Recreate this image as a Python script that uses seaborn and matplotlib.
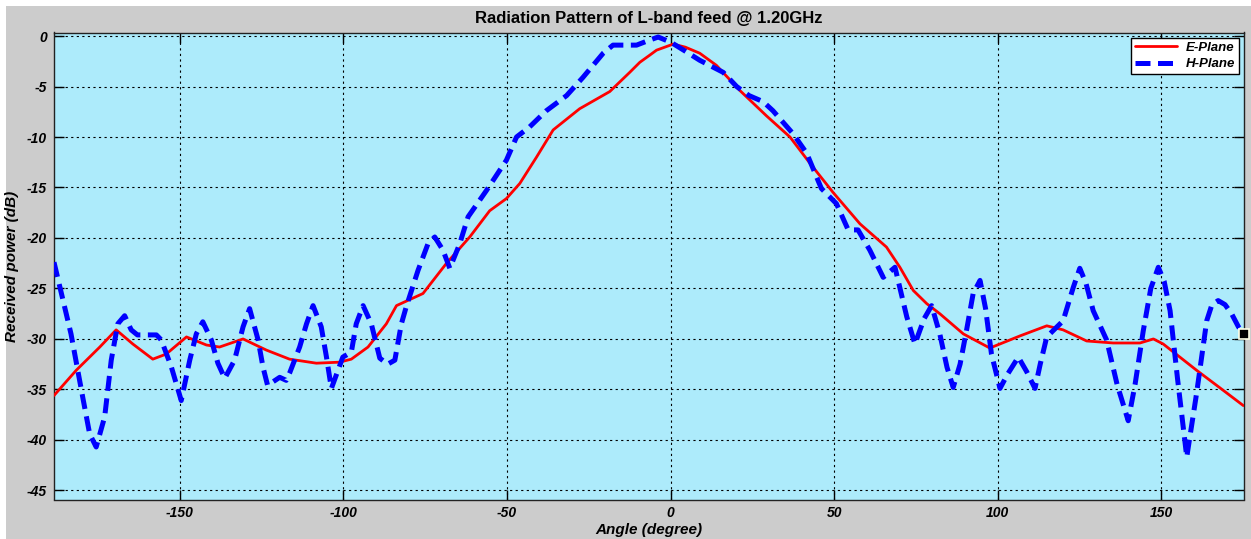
import matplotlib
matplotlib.use("Agg")
import matplotlib.pyplot as plt
from matplotlib.patches import Rectangle
import numpy as np
import pandas as pd
import seaborn as sns

# Measured E-plane pattern (angle in degrees, normalized power in dB)
e_angle = [-188.5, -181.7, -174.5, -169.5, -164.4, -158.3, -154.2, -148.0, -141.9,
           -137.9, -130.7, -123.6, -116.5, -108.3, -101.2, -97.6, -92.5, -86.9,
           -83.8, -75.7, -68.5, -61.4, -55.3, -50.2, -46.1, -41.0, -35.9, -27.8,
           -18.6, -12.5, -9.4, -6.4, -4.3, 0.8, 4.5, 8.9, 14.0, 21.2, 29.3, 36.5,
           42.6, 49.7, 57.9, 66.0, 70.1, 74.2, 78.3, 82.3, 89.5, 97.6, 106.8,
           115.0, 120.0, 127.2, 135.3, 143.5, 147.6, 150.6, 160.8, 169.0, 175.1]
e_power = [-35.6, -33.1, -30.8, -29.1, -30.5, -32.0, -31.5, -29.8, -30.6,
           -30.8, -30.0, -31.1, -32.0, -32.4, -32.3, -32.0, -30.8, -28.5,
           -26.7, -25.5, -22.5, -19.9, -17.3, -16.1, -14.6, -12.0, -9.3, -7.2,
           -5.5, -3.6, -2.6, -1.9, -1.4, -0.8, -1.1, -1.7, -2.9, -5.4, -7.9, -10.0,
           -12.6, -15.5, -18.6, -20.9, -22.9, -25.2, -26.5, -27.5, -29.5, -30.9, -29.7,
           -28.7, -29.1, -30.2, -30.4, -30.4, -30.0, -30.5, -33.1, -35.1, -36.6]

# Measured H-plane pattern
h_angle = [-188.5, -183.3, -179.7, -177.6, -175.6, -173.0, -171.0, -169.0, -166.9,
           -164.9, -163.0, -157.2, -155.7, -152.6, -149.6, -147.0, -145.0, -143.0,
           -140.4, -138.4, -136.3, -133.3, -130.7, -128.7, -126.1, -124.6, -123.2,
           -119.5, -117.5, -116.5, -113.4, -111.3, -109.3, -106.8, -105.2, -103.7,
           -100.2, -97.6, -96.1, -94.0, -91.5, -88.9, -86.5, -84.3, -82.3, -80.8,
           -77.2, -74.2, -72.1, -69.6, -67.5, -64.5, -61.9, -56.3, -50.2, -47.1,
           -43.1, -38.0, -31.8, -26.8, -20.6, -17.6, -10.4, -6.4, -3.8, 0.0, 4.5,
           8.9, 16.1, 20.2, 24.0, 28.3, 31.3, 37.5, 41.6, 46.1, 50.7, 54.3, 57.3,
           60.9, 65.0, 68.6, 72.2, 74.7, 77.5, 79.8, 82.3, 84.5, 86.4, 88.5, 90.5,
           92.5, 94.6, 96.3, 98.1, 100.7, 103.0, 106.3, 108.8, 111.4, 113.0, 115.0,
           120.0, 123.1, 125.1, 127.0, 129.2, 133.3, 136.5, 139.9, 142.0, 144.5,
           146.8, 149.1, 150.9, 152.7, 155.0, 157.8, 160.8, 163.9, 165.5, 167.4,
           169.5, 171.5, 173.6, 175.3]
h_power = [-22.4, -29.5, -35.8, -39.4, -40.7, -37.7, -32.1, -28.5, -27.7,
           -29.1, -29.6, -29.6, -30.1, -32.8, -36.1, -32.1, -29.5, -28.3,
           -30.1, -32.4, -33.9, -32.1, -28.8, -27.0, -30.1, -32.8, -34.6,
           -33.8, -34.1, -33.4, -30.8, -28.5, -26.7, -28.8, -31.8, -34.9,
           -31.8, -31.3, -28.5, -26.7, -28.5, -31.9, -32.5, -32.1, -28.5, -26.8,
           -23.2, -20.6, -19.9, -21.2, -23.0, -20.6, -17.9, -15.3, -12.3, -10.0,
           -9.0, -7.4, -5.9, -4.1, -1.7, -0.9, -0.9, -0.4, -0.1, -0.6, -1.5,
           -2.4, -3.6, -5.0, -5.9, -6.5, -7.4, -9.7, -11.6, -15.1, -16.6, -19.2, -19.2,
           -21.2, -23.9, -22.9, -27.8, -30.5, -28.0, -26.7, -29.5, -32.8, -34.8, -32.5, -29.1,
           -25.5, -24.2, -27.0, -31.5, -34.9, -33.5, -31.8, -33.2, -34.9, -32.5, -29.8,
           -28.2, -24.9, -23.0, -24.5, -27.2, -30.1, -34.5, -38.1, -34.5, -29.2,
           -25.0, -22.9, -24.3, -27.2, -34.0, -41.7, -35.4, -28.2, -26.6, -26.2,
           -26.6, -27.5, -28.8, -29.5]

x_ticks = [-150, -100, -50, 0, 50, 100, 150]
y_ticks = [0, -5, -10, -15, -20, -25, -30, -35, -40, -45]

sns.set_theme(style="ticks")
plt.rcParams["font.family"] = ["Liberation Sans", "DejaVu Sans"]
plt.rcParams["text.color"] = "black"
plt.rcParams["axes.labelcolor"] = "black"
plt.rcParams["axes.titlecolor"] = "black"

fig = plt.figure(figsize=(12.51, 5.39), dpi=100, facecolor="white")
# grey window background with a thin white margin at top and left
fig.patches.append(Rectangle((6 / 1251, 0), 1 - 6 / 1251, 1 - 6 / 539,
                             transform=fig.transFigure, facecolor="#cccccc",
                             edgecolor="none", zorder=-10))

ax = fig.add_axes([54 / 1251, 1 - 499.5 / 539, 1190 / 1251, 467 / 539])
ax.set_facecolor("#adebfb")

e_df = pd.DataFrame({"angle": e_angle, "power": e_power})
h_df = pd.DataFrame({"angle": h_angle, "power": h_power})

sns.lineplot(data=e_df, x="angle", y="power", ax=ax, color="#ff0000",
             linewidth=2.0, label="E-Plane", sort=False, zorder=3)
sns.lineplot(data=h_df, x="angle", y="power", ax=ax, color="#0000ff",
             linewidth=3.6, linestyle=(0, (3.0, 1.5)), label="H-Plane",
             sort=False, zorder=4)

# data cursor marker at the last H-plane sample
ax.plot([h_angle[-1]], [h_power[-1]], marker="s", markersize=7,
        color="black", markeredgecolor="#ffffe6", markeredgewidth=1.2,
        clip_on=False, zorder=6, linestyle="none")

ax.set_xlim(-188.5, 175.3)
ax.set_ylim(-45.9, 0.35)
ax.set_xticks(x_ticks)
ax.set_yticks(y_ticks)
ax.set_xticklabels([str(t) for t in x_ticks])
ax.set_yticklabels([str(t) for t in y_ticks])

ax.grid(True, color="black", linestyle=(0, (2, 3)), linewidth=0.8)
ax.tick_params(direction="in", length=7, width=1, top=True, right=True,
               labelsize=10, pad=5, colors="black")
for lab in ax.get_xticklabels() + ax.get_yticklabels():
    lab.set_fontweight("bold")
    lab.set_fontstyle("italic")
for side in ax.spines.values():
    side.set_color("#222222")
    side.set_linewidth(1.0)

ax.set_xlabel("Angle (degree)", fontsize=11, fontweight="bold",
              fontstyle="italic", labelpad=2, color="black")
ax.set_ylabel("Received power (dB)", fontsize=11, fontweight="bold",
              fontstyle="italic", labelpad=6, color="black")
ax.set_title("Radiation Pattern of L-band feed @ 1.20GHz", fontsize=12,
             fontweight="bold", pad=7, color="black")

leg = ax.legend(loc="upper right", fancybox=False, framealpha=1,
                edgecolor="black", borderaxespad=0.4, handlelength=3.2,
                prop={"weight": "bold", "style": "italic", "size": 9.5},
                borderpad=0.3, labelspacing=0.3, handletextpad=0.6)
leg.get_frame().set_linewidth(1.0)
for txt in leg.get_texts():
    txt.set_color("black")

fig.savefig("out.png", dpi=100, facecolor=fig.get_facecolor())
